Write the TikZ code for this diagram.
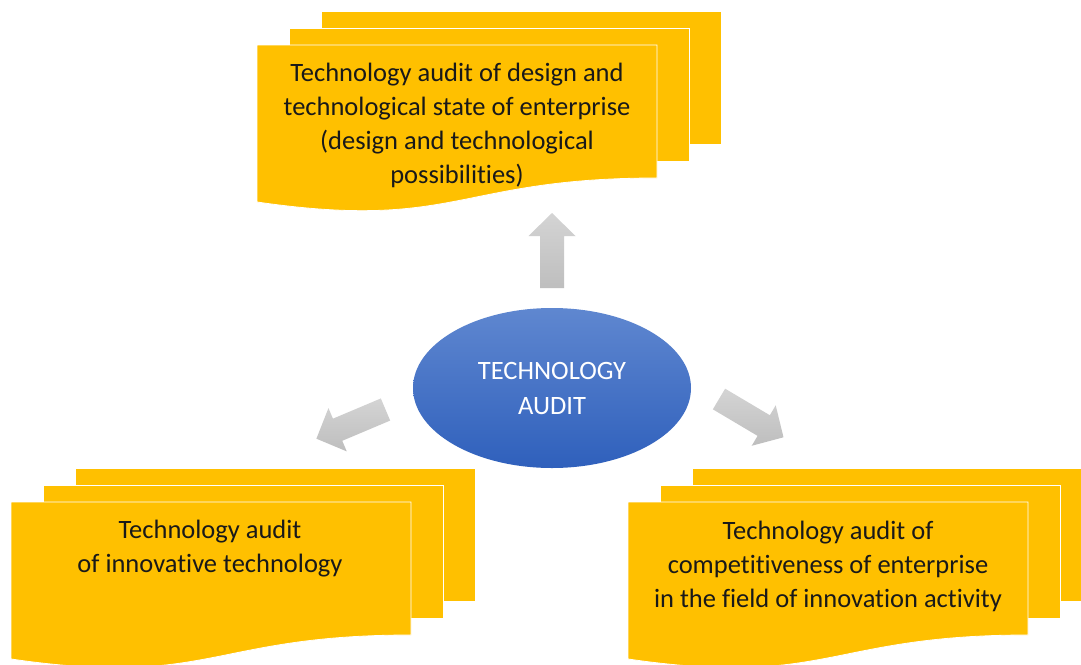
\documentclass[tikz,border=0pt]{standalone}
\usepackage{fontspec}
\setmainfont{Carlito}[RawFeature={-liga;-clig;-dlig;-calt}]
\usetikzlibrary{shapes.geometric}
\definecolor{docyellow}{HTML}{FFC000}
\definecolor{ellTop}{HTML}{5F87D0}
\definecolor{ellBot}{HTML}{2F60BC}
\definecolor{arrLight}{HTML}{D4D4D4}
\definecolor{arrDark}{HTML}{BEBEBE}
\tikzset{
  docsheet/.style={fill=docyellow, draw=white, line width=0.8pt},
  doctext/.style={align=center, font=\fontsize{26.5}{34}\selectfont, text=black!90, inner sep=0pt},
  blockarr/.style={top color=arrLight, bottom color=arrDark, draw=none},
  centre/.style={ellipse, minimum width=278pt, minimum height=160pt, top color=ellTop, bottom color=ellBot,
    draw=none, text=white, align=center, font=\fontsize{26.5}{35}\selectfont, inner sep=0pt},
}
\newcommand{\multidoc}[2]{%
  \begin{scope}[shift={#2}]
    \path[docsheet] (64,-34) rectangle (464,99);
    \path[docsheet] (32,-17) rectangle (432,116);
    \path[docsheet] (0,0) -- (400,0) -- (400,133)
      .. controls (200,133) and (200,186) .. (0,157) -- cycle;
    \coordinate (#1) at (200,83);
  \end{scope}}
\newcommand{\blockarrow}[3]{%
  \begin{scope}[shift={#2}, rotate=#3]
    \shade[blockarr] (0,-12) -- (52,-12) -- (52,-23.5) -- (75,0) -- (52,23.5) -- (52,12) -- (0,12) -- cycle;
    \coordinate (#1) at (37,0);
  \end{scope}}
\begin{document}
\begin{tikzpicture}[x=1pt,y=-1pt]
  \useasboundingbox (0,0) rectangle (1081,664);
  \fill[white] (0,0) rectangle (1081,664);
  % documents
  \multidoc{docTop}{(257,45)}
  \multidoc{docLeft}{(11,502)}
  \multidoc{docRight}{(628,502)}
  \node[doctext] (tTop) at (457,125) {Technology audit of design and\\technological state of enterprise\\(design and technological\\possibilities)};
  \node[doctext] (tLeft) at (210,549) {Technology audit\\of innovative technology};
  \node[doctext] (tRight) at (828,566) {Technology audit of\\competitiveness of enterprise\\in the field of innovation activity};
  % centre
  \node[centre] (audit) at (552,388) {TECHNOLOGY\\AUDIT};
  % block arrows
  \blockarrow{arrUp}{(552,288)}{90}
  \blockarrow{arrLeft}{(385.5,409.5)}{202.9}
  \blockarrow{arrRight}{(719,399)}{-30.7}
\end{tikzpicture}
\end{document}
